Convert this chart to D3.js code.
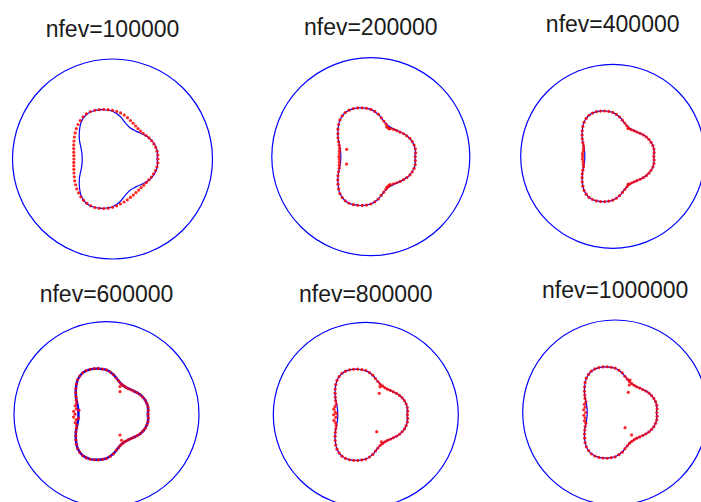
<!DOCTYPE html>
<html>
<head>
<meta charset="utf-8">
<script src="https://cdn.jsdelivr.net/npm/d3@7"></script>
<style>
  html, body { margin: 0; padding: 0; background: #fff; }
  svg { display: block; }
</style>
</head>
<body>
<script>
// Run labels (number of function evaluations)
const titles = ["nfev=100000", "nfev=200000", "nfev=400000",
                "nfev=600000", "nfev=800000", "nfev=1000000"];

// Target boundary: polar radius (in units of the outer wall radius) every 10 degrees
const boundaryAngles = [0,10,20,30,40,50,60,70,80,90,100,110,120,130,140,150,160,170,
                        180,190,200,210,220,230,240,250,260,270,280,290,300,310,320,330,340,350];
const boundaryRadii = [.447,.455,.445,.422,.388,.364,.358,.382,.434,.478,.500,.516,.516,.485,.432,.382,.336,.310,
                       .303,.310,.336,.382,.432,.485,.516,.516,.500,.478,.434,.382,.358,.364,.388,.422,.445,.455];

// Optimised boundary points: angle of each point (degrees)
const pointAngles = [0,5,10,15,20,25,30,35,40,45,50,55,60,65,70,75,80,85,90,95,100,105,110,115,
                     120,125,130,135,140,145,150,155,160,165,170,175,180,185,190,195,200,205,210,215,
                     220,225,230,235,240,245,250,255,260,265,270,275,280,285,290,295,300,305,310,315,
                     320,325,330,335,340,345,350,355];

// Radius of each optimised point, one array per run
const points100k = [.455,.455,.452,.447,.440,.432,.422,.410,.400,.395,.397,.403,.413,.425,.440,.455,.468,.478,
                    .487,.495,.503,.511,.519,.523,.522,.514,.502,.488,.472,.455,.440,.425,.412,.402,.393,.388,
                    .386,.388,.393,.400,.410,.422,.436,.450,.466,.480,.493,.504,.512,.517,.516,.510,.503,.494,
                    .483,.470,.457,.445,.434,.424,.416,.410,.406,.405,.407,.412,.419,.428,.437,.445,.451,.455];
const points200k = [.449,.455,.457,.453,.446,.436,.420,.404,.386,.372,.360,.345,.342,.364,.383,.407,.436,.459,
                    .478,.491,.501,.510,.517,.519,.515,.503,.485,.460,.433,.405,.383,.360,.340,.327,.322,.318,
                    .322,.318,.323,.330,.340,.360,.383,.407,.432,.460,.486,.503,.515,.519,.516,.509,.500,.490,
                    .478,.458,.435,.405,.381,.362,.350,.345,.358,.372,.387,.404,.421,.436,.446,.453,.456,.452];
const points400k = [.447,.452,.455,.452,.444,.434,.421,.405,.388,.373,.362,.352,.350,.365,.384,.406,.434,.457,
                    .477,.490,.500,.509,.516,.518,.515,.502,.484,.459,.432,.406,.382,.358,.338,.328,.325,.330,
                    .326,.331,.326,.330,.338,.358,.382,.406,.432,.459,.484,.502,.515,.518,.516,.509,.500,.490,
                    .477,.457,.434,.406,.384,.366,.352,.354,.362,.373,.388,.405,.421,.434,.444,.452,.455,.452];
const points600k = [.450,.455,.456,.452,.445,.433,.420,.404,.387,.374,.362,.358,.360,.366,.383,.405,.435,.458,
                    .479,.490,.502,.510,.517,.520,.516,.503,.485,.460,.432,.405,.380,.360,.345,.350,.332,.356,
                    .340,.358,.333,.350,.345,.358,.380,.405,.432,.460,.485,.503,.516,.520,.517,.510,.502,.490,
                    .479,.458,.435,.405,.383,.366,.360,.358,.362,.374,.387,.404,.420,.433,.445,.452,.456,.455];
const points800k = [.450,.455,.456,.452,.445,.433,.420,.404,.387,.374,.362,.358,.360,.366,.383,.405,.435,.458,
                    .479,.490,.502,.510,.517,.520,.516,.503,.485,.460,.432,.405,.380,.360,.340,.345,.350,.330,
                    .348,.325,.350,.338,.340,.358,.380,.405,.432,.460,.485,.503,.516,.520,.517,.510,.502,.490,
                    .479,.458,.435,.405,.383,.366,.360,.358,.362,.374,.387,.404,.420,.433,.445,.452,.456,.455];
const points1000k = [.450,.455,.456,.452,.445,.433,.420,.404,.387,.374,.362,.358,.360,.366,.383,.405,.435,.458,
                     .479,.490,.502,.510,.517,.520,.516,.503,.485,.460,.432,.405,.380,.360,.338,.345,.330,.342,
                     .318,.340,.330,.344,.338,.358,.380,.405,.432,.460,.485,.503,.516,.520,.517,.510,.502,.490,
                     .479,.458,.435,.405,.383,.366,.360,.358,.362,.374,.387,.404,.420,.433,.445,.452,.456,.455];

// Extra points that sit off the boundary (angle in degrees, radius)
const strayAngles100k = [];
const strayRadii100k = [];
const strayAngles200k = [163, 197, 57, 62, 298, 303];
const strayRadii200k = [.255, .256, .338, .343, .347, .342];
const strayAngles400k = [61, 299];
const strayRadii400k = [.345, .347];
const strayAngles600k = [64, 59, 303, 300, 172, 188];
const strayRadii600k = [.332, .284, .268, .325, .300, .305];
const strayAngles800k = [63, 58, 303, 300, 178];
const strayRadii800k = [.340, .274, .217, .337, .315];
const strayAngles1000k = [65.5, 62.8, 57, 303, 306];
const strayRadii1000k = [.386, .334, .260, .195, .300];

// ---- drawing ----
const W = 701, H = 502;
const svg = d3.select("body").append("svg")
  .attr("width", W).attr("height", H)
  .attr("viewBox", `0 0 ${W} ${H}`);

// panel placement: centre and wall radius in pixels, title baseline, boundary line width
const layout = [
  {cx: 112.5, cy: 159.0, R: 100.0, ty: 37.3, lw: 1.2},
  {cx: 370.8, cy: 156.7, R: 99.0,  ty: 35.0, lw: 1.2},
  {cx: 612.7, cy: 156.3, R: 92.0,  ty: 31.7, lw: 1.2},
  {cx: 106.5, cy: 414.2, R: 92.5,  ty: 301.7, lw: 2.4},
  {cx: 365.8, cy: 414.8, R: 92.5,  ty: 301.7, lw: 1.2},
  {cx: 615.2, cy: 412.5, R: 92.5,  ty: 298.3, lw: 1.2}
];

const runs = [
  {title: titles[0], radii: points100k,  sa: strayAngles100k,  sr: strayRadii100k},
  {title: titles[1], radii: points200k,  sa: strayAngles200k,  sr: strayRadii200k},
  {title: titles[2], radii: points400k,  sa: strayAngles400k,  sr: strayRadii400k},
  {title: titles[3], radii: points600k,  sa: strayAngles600k,  sr: strayRadii600k},
  {title: titles[4], radii: points800k,  sa: strayAngles800k,  sr: strayRadii800k},
  {title: titles[5], radii: points1000k, sa: strayAngles1000k, sr: strayRadii1000k}
];

const BLUE = "#0000ff", RED = "#ff0000";
const deg = Math.PI / 180;

runs.forEach((run, i) => {
  const L = layout[i];
  const x = d3.scaleLinear().domain([-1, 1]).range([L.cx - L.R, L.cx + L.R]);
  const y = d3.scaleLinear().domain([-1, 1]).range([L.cy + L.R, L.cy - L.R]);
  const polar = (a, r) => [x(r * Math.cos(a * deg)), y(r * Math.sin(a * deg))];

  const g = svg.append("g");

  // outer wall (unit circle)
  g.append("circle")
    .attr("cx", x(0)).attr("cy", y(0))
    .attr("r", x(1) - x(0))
    .attr("fill", "none")
    .attr("stroke", BLUE)
    .attr("stroke-width", 1.2);

  // target boundary
  const line = d3.line().curve(d3.curveCatmullRomClosed.alpha(0.5));
  g.append("path")
    .attr("d", line(boundaryAngles.map((a, k) => polar(a, boundaryRadii[k]))))
    .attr("fill", "none")
    .attr("stroke", BLUE)
    .attr("stroke-width", L.lw)
    .attr("stroke-linejoin", "round");

  // optimised points
  const pts = pointAngles.map((a, k) => polar(a, run.radii[k]))
    .concat(run.sa.map((a, k) => polar(a, run.sr[k])));
  g.selectAll("circle.pt").data(pts).join("circle")
    .attr("class", "pt")
    .attr("cx", d => d[0]).attr("cy", d => d[1])
    .attr("r", 1.6)
    .attr("fill", RED)
    .attr("fill-opacity", 0.85);

  // title
  g.append("text")
    .attr("x", x(0)).attr("y", L.ty)
    .attr("text-anchor", "middle")
    .attr("font-family", "'Liberation Sans', Arial, sans-serif")
    .attr("font-size", 23)
    .attr("fill", "#1a1a1a")
    .text(run.title);
});
</script>
</body>
</html>
